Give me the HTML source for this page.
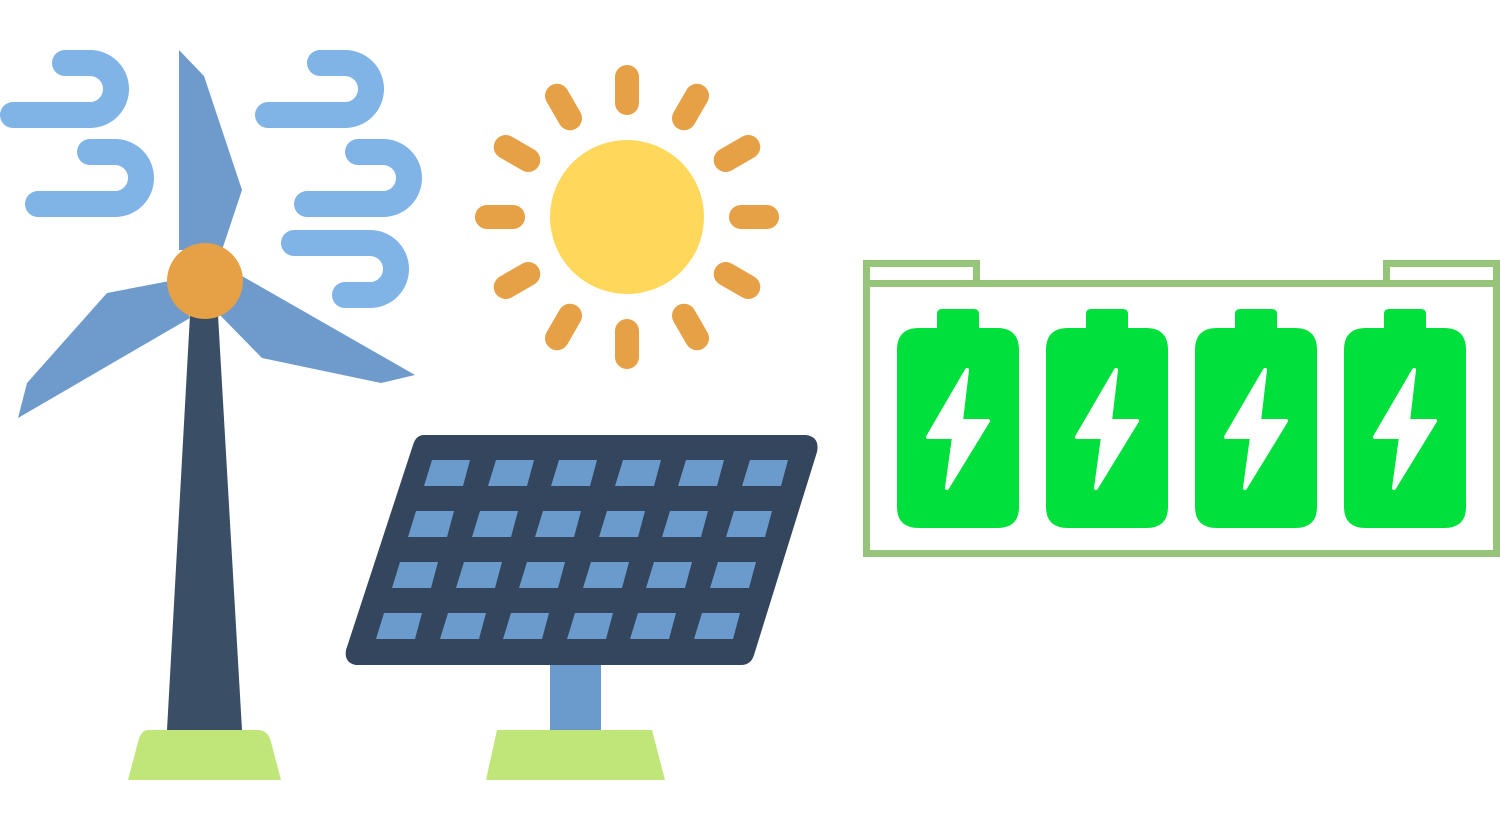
<!DOCTYPE html>
<html><head><style>body{margin:0;background:#fff}svg{display:block}</style></head><body>
<svg width="1500" height="819" viewBox="0 0 1500 819" xmlns="http://www.w3.org/2000/svg">
<g fill="none" stroke="#80b3e6" stroke-width="26" stroke-linecap="round" stroke-linejoin="round">
<path d="M13 115H90A26 26 0 0 0 90 63H65"/>
<path d="M38 204H115A26 26 0 0 0 115 152H90"/>
<path d="M268 115H345A26 26 0 0 0 345 63H320"/>
<path d="M307 204H383A26 26 0 0 0 383 152H358"/>
<path d="M294 243H370A26 26 0 0 1 370 295H345"/>
</g>
<polygon points="190,315 218,315 242,730 167,730" fill="#3a4f66"/>
<path d="M148 730H258Q268 730 271 742L281 780H128L138 742Q141 730 148 730Z" fill="#c0e67a"/>
<g fill="#6e9bcc">
<polygon points="179,50 204,76 242,190 222,250 179,250"/>
<polygon points="190,318 18,418 27,383 107,293 175,280"/>
<polygon points="235,272 415,375 381,383 262,358 215,310"/>
</g>
<circle cx="205" cy="281" r="38" fill="#e6a045"/>
<circle cx="627" cy="217" r="77" fill="#ffd75a"/>
<g stroke="#e6a045" stroke-width="24" stroke-linecap="round" transform="translate(627,217)">
<line x1="0" y1="-114" x2="0" y2="-140"/>
<line x1="0" y1="-114" x2="0" y2="-140" transform="rotate(30)"/>
<line x1="0" y1="-114" x2="0" y2="-140" transform="rotate(60)"/>
<line x1="0" y1="-114" x2="0" y2="-140" transform="rotate(90)"/>
<line x1="0" y1="-114" x2="0" y2="-140" transform="rotate(120)"/>
<line x1="0" y1="-114" x2="0" y2="-140" transform="rotate(150)"/>
<line x1="0" y1="-114" x2="0" y2="-140" transform="rotate(180)"/>
<line x1="0" y1="-114" x2="0" y2="-140" transform="rotate(210)"/>
<line x1="0" y1="-114" x2="0" y2="-140" transform="rotate(240)"/>
<line x1="0" y1="-114" x2="0" y2="-140" transform="rotate(270)"/>
<line x1="0" y1="-114" x2="0" y2="-140" transform="rotate(300)"/>
<line x1="0" y1="-114" x2="0" y2="-140" transform="rotate(330)"/>
</g>
<rect x="550" y="660" width="51" height="72" fill="#6b9bcc"/>
<polygon points="497,730 652,730 665,780 486,780" fill="#c0e67a"/>
<path d="M424 435H806Q820 437 817 452L754 655Q751 665 741 665H356Q344 663 346 650L413 445Q416 435 424 435Z" fill="#33465e"/>
<g fill="#6b9bcc" id="cells"></g>
<g fill="#6b9bcc">
<script>/* placeholder */</script>
</g>
<g fill="#6b9bcc">
<polygon points="432,460 470,460 463,486 424,486"/><polygon points="496,460 534,460 527,486 488,486"/><polygon points="559,460 597,460 590,486 551,486"/><polygon points="623,460 661,460 654,486 615,486"/><polygon points="686,460 724,460 717,486 678,486"/><polygon points="750,460 788,460 781,486 742,486"/>
<polygon points="416,511 454,511 447,537 408,537"/><polygon points="480,511 518,511 511,537 472,537"/><polygon points="543,511 581,511 574,537 535,537"/><polygon points="607,511 645,511 638,537 599,537"/><polygon points="670,511 708,511 701,537 662,537"/><polygon points="734,511 772,511 765,537 726,537"/>
<polygon points="400,562 438,562 431,588 392,588"/><polygon points="464,562 502,562 495,588 456,588"/><polygon points="527,562 565,562 558,588 519,588"/><polygon points="591,562 629,562 622,588 583,588"/><polygon points="654,562 692,562 685,588 646,588"/><polygon points="718,562 756,562 749,588 710,588"/>
<polygon points="384,613 422,613 415,639 376,639"/><polygon points="448,613 486,613 479,639 440,639"/><polygon points="511,613 549,613 542,639 503,639"/><polygon points="575,613 613,613 606,639 567,639"/><polygon points="638,613 676,613 669,639 630,639"/><polygon points="702,613 740,613 733,639 694,639"/>
</g>
<g fill="none" stroke="#96c47a" stroke-width="7">
<rect x="866.5" y="263.5" width="110" height="20"/>
<rect x="1386.5" y="263.5" width="110" height="20"/>
<rect x="866.5" y="283.5" width="630" height="270"/>
</g>
<defs>
<g id="bat">
<path d="M45 0H77Q82 0 82 5V19H100Q122 19 122 41V198Q122 219 100 219H22Q0 219 0 198V41Q0 19 22 19H40V5Q40 0 45 0Z" fill="#00e03c"/>
<polygon points="70,61 31,128 57,128 50,179 91,112 64,112" fill="#fff" stroke="#fff" stroke-width="4" stroke-linejoin="round"/>
</g>
</defs>
<use href="#bat" x="897" y="309"/>
<use href="#bat" x="1046" y="309"/>
<use href="#bat" x="1195" y="309"/>
<use href="#bat" x="1344" y="309"/>
</svg>
</body></html>
